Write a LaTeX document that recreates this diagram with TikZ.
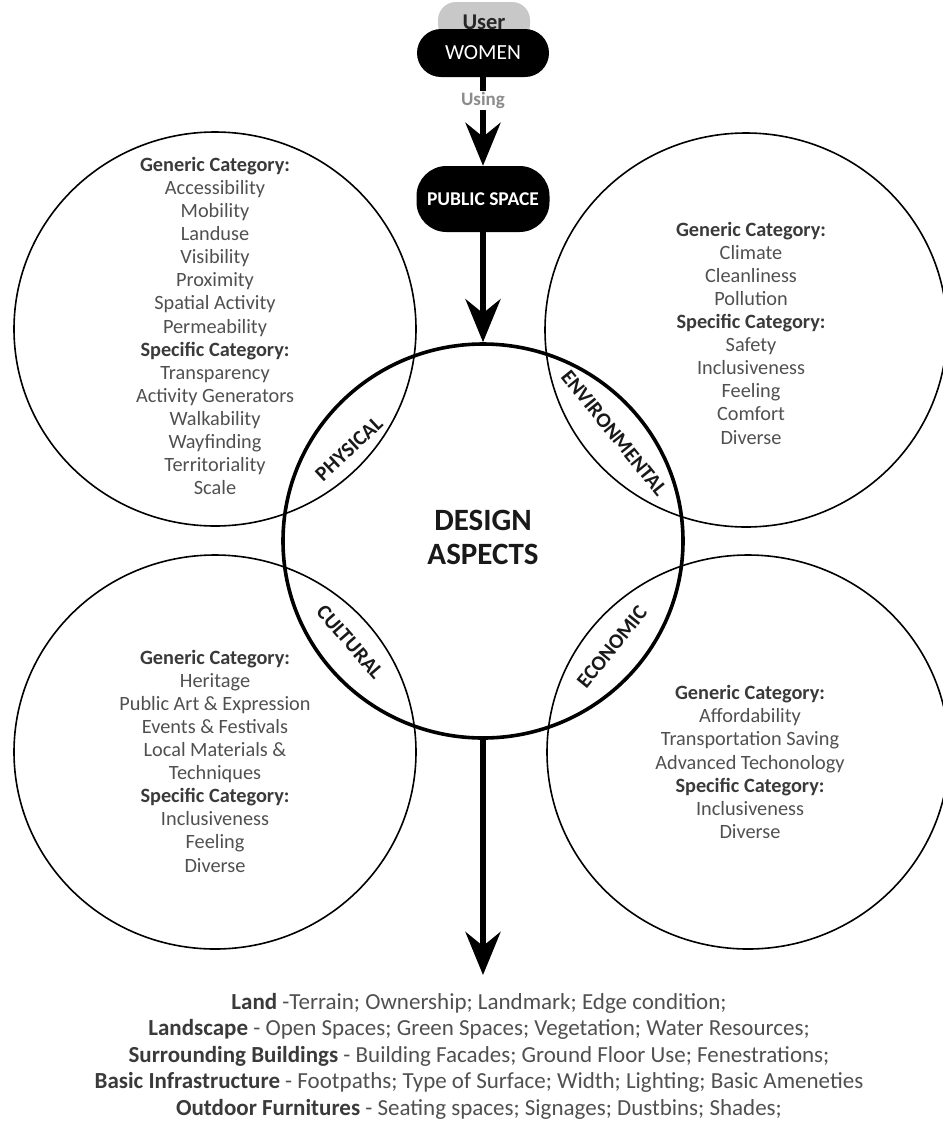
\documentclass[tikz,border=0pt]{standalone}
\usepackage{fontspec}
\setmainfont{Carlito}
\usetikzlibrary{arrows.meta,shapes.geometric}
\definecolor{bodygray}{HTML}{505050}
\definecolor{headgray}{HTML}{3A3A3A}
\definecolor{pillgray}{HTML}{C8C8C8}
\definecolor{usinggray}{HTML}{8C8C8C}
\newcommand{\hd}[1]{{\bfseries\color{headgray}#1}}
\begin{document}
\begin{tikzpicture}[x=1pt,y=-1pt,
  outer/.style={draw, ellipse, line width=1.6pt, minimum width=402pt, minimum height=394pt, inner sep=0pt},
  core/.style={draw, ellipse, line width=3.6pt, minimum width=400pt, minimum height=394pt, inner sep=0pt},
  list/.style={align=center, text=bodygray, font=\fontsize{20.3}{23.1}\selectfont, inner sep=0pt},
  lens/.style={font=\fontsize{21}{21}\selectfont\bfseries, text=black!90, inner sep=0pt},
  bigarrow/.style={line width=6pt, -{Stealth[length=43pt, width=35pt, inset=14pt]}}]
\useasboundingbox (0,0) rectangle (943,1128);
% outer circles
\node[outer] (phys) at (215,329) {};
\node[outer] (env) at (746,330) {};
\node[outer] (cult) at (215,752) {};
\node[outer] (econ) at (748,752) {};
% central circle
\node[core] (core) at (483,541) {};
\node[font=\fontsize{31}{34}\selectfont\bfseries, align=center, text=black!90] (da) at (483,537) {DESIGN\\ASPECTS};
% lens labels
\node[lens, rotate=43] (lphys) at (349,449) {PHYSICAL};
\node[lens, rotate=-51] (lenv) at (614,433) {ENVIRONMENTAL};
\node[lens, rotate=-49] (lcult) at (350,642) {CULTURAL};
\node[lens, rotate=51] (lecon) at (612,647) {ECONOMIC};
% lists
\node[list] (tphys) at (215,326) {\hd{Generic Category:}\\Accessibility\\Mobility\\Landuse\\Visibility\\Proximity\\Spatial Activity\\Permeability\\\hd{Specific Category:}\\Transparency\\Activity Generators\\Walkability\\Wayfinding\\Territoriality\\Scale};
\node[list] (tenv) at (751,333) {\hd{Generic Category:}\\Climate\\Cleanliness\\Pollution\\\hd{Specific Category:}\\Safety\\Inclusiveness\\Feeling\\Comfort\\Diverse};
\node[list] (tcult) at (215,761) {\hd{Generic Category:}\\Heritage\\Public Art \& Expression\\Events \& Festivals\\Local Materials \&\\Techniques\\\hd{Specific Category:}\\Inclusiveness\\Feeling\\Diverse};
\node[list] (tecon) at (750,762) {\hd{Generic Category:}\\Affordability\\Transportation Saving\\Advanced Techonology\\\hd{Specific Category:}\\Inclusiveness\\Diverse};
% top pills
\node[fill=pillgray, rounded corners=18pt, minimum width=92pt, minimum height=40pt, inner sep=0pt, font=\fontsize{22.5}{22.5}\selectfont\bfseries, text=black!85] (user) at (484,22) {User};
\node[fill=black, text=white, rounded corners=24pt, minimum width=132pt, minimum height=48pt, inner sep=0pt, font=\fontsize{21.5}{21.5}\selectfont] (women) at (483,53) {WOMEN};
\node[fill=black, text=white, rounded corners=30pt, minimum width=133pt, minimum height=66pt, inner sep=0pt, font=\fontsize{19.5}{19.5}\selectfont\bfseries] (ps) at (483,199) {PUBLIC SPACE};
% arrows
\draw[bigarrow] (women.south) -- node[pos=0.26, fill=white, text=usinggray, inner sep=1pt, font=\fontsize{19}{19}\selectfont\bfseries] (using) {Using} (ps.north);
\draw[bigarrow] (ps.south) -- (core.north);
\coordinate (out) at (483,975);
\draw[bigarrow] (core.south) -- (out);
% bottom text
\node[align=center, text=bodygray, font=\fontsize{23}{26.5}\selectfont, inner sep=0pt] (elements) at (479,1056) {\hd{Land} -Terrain; Ownership; Landmark; Edge condition;\\
\hd{Landscape} - Open Spaces; Green Spaces; Vegetation; Water Resources;\\
\hd{Surrounding Buildings} - Building Facades; Ground Floor Use; Fenestrations;\\
\hd{Basic Infrastructure} - Footpaths; Type of Surface; Width; Lighting; Basic Ameneties\\
\hd{Outdoor Furnitures} - Seating spaces; Signages; Dustbins; Shades;};
\end{tikzpicture}
\end{document}
